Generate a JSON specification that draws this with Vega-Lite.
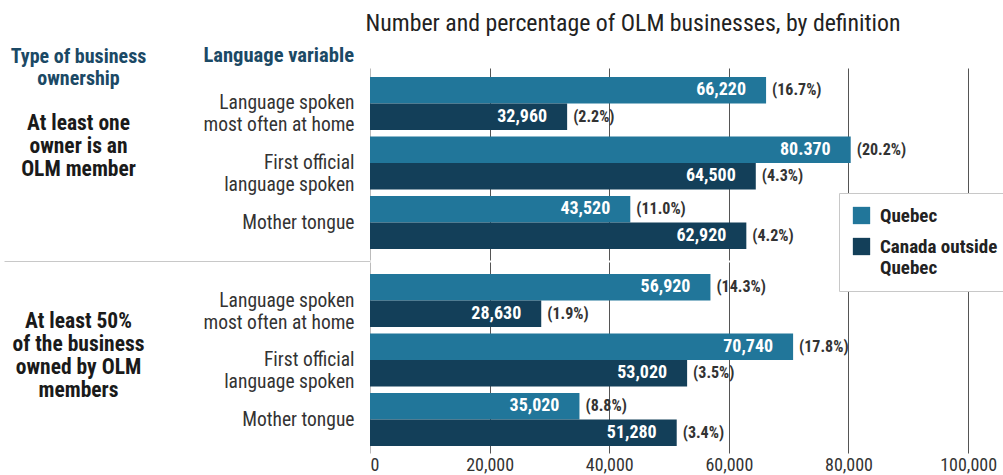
{
  "$schema": "https://vega.github.io/schema/vega-lite/v6.json",
  "padding": {"left": 3, "right": 0, "top": 12, "bottom": 0},
  "config": {
    "font": "Roboto Condensed, Liberation Sans Narrow, DejaVu Sans Condensed, sans-serif",
    "view": {"stroke": null},
    "concat": {"spacing": 0}
  },
  "title": {"text": "Number and percentage of OLM businesses, by definition", "fontSize": 23.8, "fontWeight": "normal", "color": "#222222", "anchor": "start", "dx": 362, "offset": 10},
  "data": {"values": [
    {"group": "g1", "category": "Language spoken most often at home", "series": "Quebec", "value": 66220, "label": "66,220", "pct": "(16.7%)"},
    {"group": "g1", "category": "Language spoken most often at home", "series": "Canada outside Quebec", "value": 32960, "label": "32,960", "pct": "(2.2%)"},
    {"group": "g1", "category": "First official language spoken", "series": "Quebec", "value": 80370, "label": "80.370", "pct": "(20.2%)"},
    {"group": "g1", "category": "First official language spoken", "series": "Canada outside Quebec", "value": 64500, "label": "64,500", "pct": "(4.3%)"},
    {"group": "g1", "category": "Mother tongue", "series": "Quebec", "value": 43520, "label": "43,520", "pct": "(11.0%)"},
    {"group": "g1", "category": "Mother tongue", "series": "Canada outside Quebec", "value": 62920, "label": "62,920", "pct": "(4.2%)"},
    {"group": "g2", "category": "Language spoken most often at home", "series": "Quebec", "value": 56920, "label": "56,920", "pct": "(14.3%)"},
    {"group": "g2", "category": "Language spoken most often at home", "series": "Canada outside Quebec", "value": 28630, "label": "28,630", "pct": "(1.9%)"},
    {"group": "g2", "category": "First official language spoken", "series": "Quebec", "value": 70740, "label": "70,740", "pct": "(17.8%)"},
    {"group": "g2", "category": "First official language spoken", "series": "Canada outside Quebec", "value": 53020, "label": "53,020", "pct": "(3.5%)"},
    {"group": "g2", "category": "Mother tongue", "series": "Quebec", "value": 35020, "label": "35,020", "pct": "(8.8%)"},
    {"group": "g2", "category": "Mother tongue", "series": "Canada outside Quebec", "value": 51280, "label": "51,280", "pct": "(3.4%)"}
  ]},
  "spacing": 0,
  "vconcat": [
    {
      "width": 634,
      "height": 192,
      "title": {"text": "Language variable", "frame": "group", "anchor": "start", "align": "right", "dx": -16, "fontSize": 20.6, "fontWeight": "bold", "color": "#1b4965", "offset": -21},
      "transform": [{"filter": "datum.group === 'g1'"}],
      "encoding": {
        "y": {
          "field": "category", "type": "nominal",
          "sort": ["Language spoken most often at home", "First official language spoken", "Mother tongue"],
          "scale": {"paddingInner": 0.11, "paddingOuter": 0.168, "align": 0.45},
          "axis": {
            "ticks": false, "domain": false, "labelPadding": 16,
            "labelFontSize": 19.5, "labelColor": "#333333", "labelLineHeight": 22,
            "labelExpr": "datum.value == 'Language spoken most often at home' ? ['Language spoken', 'most often at home'] : datum.value == 'First official language spoken' ? ['First official', 'language spoken'] : datum.value",
            "title": ["At least one", "owner is an", "OLM member"],
            "titleAngle": 0, "titleAlign": "center", "titleBaseline": "middle",
            "titleX": -292, "titleY": 55, "titleFontSize": 21.5, "titleFontWeight": "bold", "titleColor": "#1a1a1a", "titleLineHeight": 23
          }
        },
        "yOffset": {"field": "series", "type": "nominal", "sort": ["Quebec", "Canada outside Quebec"]},
        "x": {
          "field": "value", "type": "quantitative",
          "scale": {"domain": [0, 106000], "nice": false},
          "axis": {
            "orient": "top", "labels": false, "ticks": false, "domain": false,
            "grid": true, "values": [0, 20000, 40000, 60000, 80000, 100000],
            "gridColor": {"condition": {"test": "datum.value === 0", "value": "#bbbbbb"}, "value": "#555555"},
            "title": ["Type of business", "ownership"],
            "titleX": -292, "titleY": -12, "titleAlign": "center", "titleBaseline": "middle", "titleAngle": 0,
            "titleFontSize": 20, "titleFontWeight": "bold", "titleColor": "#1b4965", "titleLineHeight": 22
          }
        }
      },
      "layer": [
        {
          "mark": {"type": "bar"},
          "encoding": {
            "color": {
              "field": "series", "type": "nominal",
              "scale": {"domain": ["Quebec", "Canada outside Quebec"], "range": ["#21769a", "#133f59"]},
              "legend": {
                "title": null, "orient": "none", "legendX": 469, "legendY": 125,
                "fillColor": "white", "strokeColor": "#c8c8c8", "padding": 13,
                "labelFontSize": 19, "labelFontWeight": "bold", "labelColor": "#222222", "labelOffset": 9,
                "symbolType": "square", "symbolSize": 300, "symbolStrokeWidth": 0, "rowPadding": 11,
                "labelLineHeight": 22,
                "labelExpr": "datum.label == 'Canada outside Quebec' ? ['Canada outside', 'Quebec'] : datum.label"
              }
            }
          }
        },
        {
          "mark": {"type": "text", "align": "right", "dx": -20, "color": "white", "fontWeight": "bold", "fontSize": 18},
          "encoding": {"text": {"field": "label"}}
        },
        {
          "mark": {"type": "text", "align": "left", "dx": 6, "color": "#333333", "fontWeight": "bold", "fontSize": 16},
          "encoding": {"text": {"field": "pct"}}
        }
      ]
    },
    {
      "width": 634,
      "height": 191,
      "transform": [{"filter": "datum.group === 'g2'"}],
      "encoding": {
        "y": {
          "field": "category", "type": "nominal",
          "sort": ["Language spoken most often at home", "First official language spoken", "Mother tongue"],
          "scale": {"paddingInner": 0.11, "paddingOuter": 0.16, "align": 0.63},
          "axis": {
            "ticks": true, "domain": false, "tickSize": 366, "tickWidth": 1,
            "tickColor": {"condition": {"test": "datum.value == 'Language spoken most often at home'", "value": "#c8c8c8"}, "value": "transparent"},
            "tickOffset": -39, "labelOffset": 39, "labelPadding": -350,
            "labelFontSize": 19.5, "labelColor": "#333333", "labelLineHeight": 22,
            "labelExpr": "datum.value == 'Language spoken most often at home' ? ['Language spoken', 'most often at home'] : datum.value == 'First official language spoken' ? ['First official', 'language spoken'] : datum.value",
            "title": ["At least 50%", "of the business", "owned by OLM", "members"],
            "titleAngle": 0, "titleAlign": "center", "titleBaseline": "middle",
            "titleX": -292, "titleY": 59, "titleFontSize": 21.5, "titleFontWeight": "bold", "titleColor": "#1a1a1a", "titleLineHeight": 23
          }
        },
        "yOffset": {"field": "series", "type": "nominal", "sort": ["Quebec", "Canada outside Quebec"]},
        "x": {
          "field": "value", "type": "quantitative",
          "scale": {"domain": [0, 106000], "nice": false},
          "axis": {
            "orient": "bottom", "ticks": false, "domain": false,
            "grid": true, "values": [0, 20000, 40000, 60000, 80000, 100000], "format": ",d",
            "gridColor": {"condition": {"test": "datum.value === 0", "value": "#bbbbbb"}, "value": "#555555"},
            "labelFontSize": 18, "labelColor": "#333333", "labelPadding": 3,
            "title": null
          }
        }
      },
      "layer": [
        {
          "mark": {"type": "bar"},
          "encoding": {
            "color": {
              "field": "series", "type": "nominal",
              "scale": {"domain": ["Quebec", "Canada outside Quebec"], "range": ["#21769a", "#133f59"]},
              "legend": {
                "title": null, "orient": "none", "legendX": 469, "legendY": 125,
                "fillColor": "white", "strokeColor": "#c8c8c8", "padding": 13,
                "labelFontSize": 19, "labelFontWeight": "bold", "labelColor": "#222222", "labelOffset": 9,
                "symbolType": "square", "symbolSize": 300, "symbolStrokeWidth": 0, "rowPadding": 11,
                "labelLineHeight": 22,
                "labelExpr": "datum.label == 'Canada outside Quebec' ? ['Canada outside', 'Quebec'] : datum.label"
              }
            }
          }
        },
        {
          "mark": {"type": "text", "align": "right", "dx": -20, "color": "white", "fontWeight": "bold", "fontSize": 18},
          "encoding": {"text": {"field": "label"}}
        },
        {
          "mark": {"type": "text", "align": "left", "dx": 6, "color": "#333333", "fontWeight": "bold", "fontSize": 16},
          "encoding": {"text": {"field": "pct"}}
        }
      ]
    }
  ]
}
